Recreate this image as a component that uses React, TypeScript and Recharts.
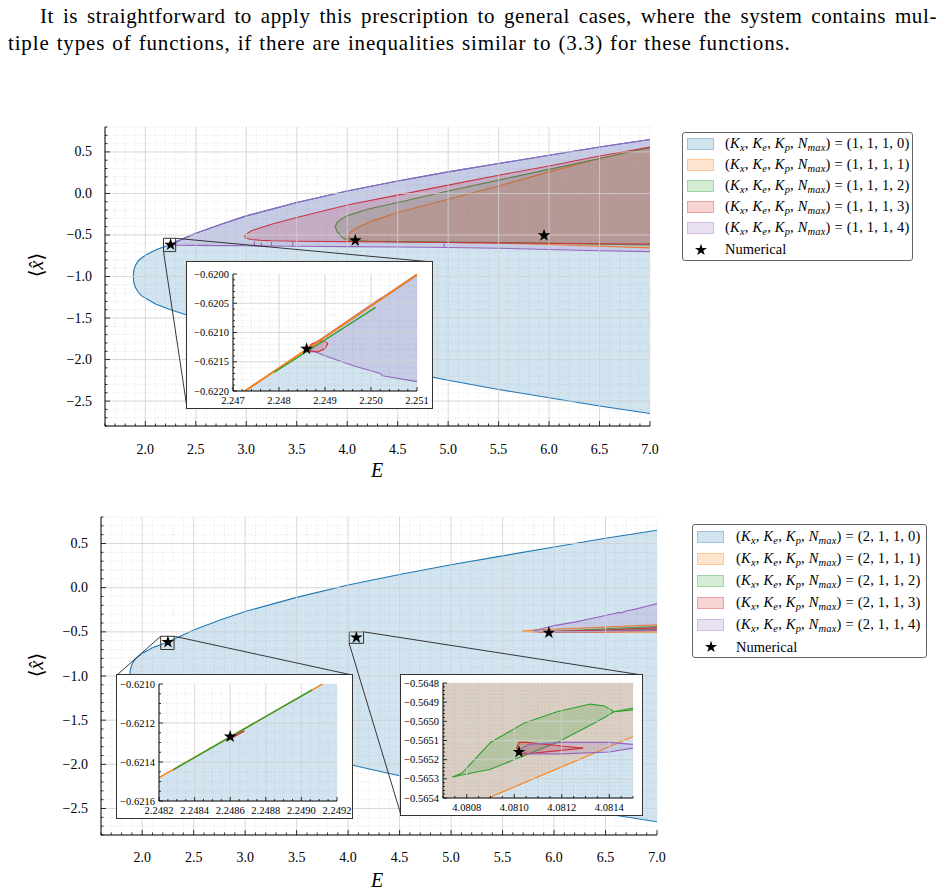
import React from "react";
import {
  ComposedChart,
  Area,
  Line,
  Scatter,
  XAxis,
  YAxis,
  CartesianGrid,
  ReferenceArea,
  ReferenceLine,
  Symbols,
} from "recharts";

const FONT = "'Liberation Serif', 'DejaVu Serif', serif";
const BLUE = "#1f77b4";
const ORANGE = "#ff7f0e";
const GREEN = "#2ca02c";
const RED = "#d62728";
const PURPLE = "#9467bd";
const SERIES_COLORS = [BLUE, ORANGE, GREEN, RED, PURPLE];

// ---------------- values ----------------
// legend tuples
const NMAX = [0, 1, 2, 3, 4];
const KX_TOP = 1;
const KX_BOTTOM = 2;

// N_max = 0 envelope (same in both panels)
const envE = [1.88, 1.885, 1.9, 1.93, 1.96, 2.0, 2.1, 2.25, 2.5, 2.75, 3.0, 3.5, 4.0, 4.5, 5.0, 5.5, 6.0, 6.5, 7.0];
const envHi = [-1.0, -0.93, -0.87, -0.81, -0.78, -0.745, -0.68, -0.615, -0.48, -0.37, -0.27, -0.11, 0.03, 0.15, 0.26, 0.36, 0.46, 0.56, 0.65];
const envLo = [-1.0, -1.07, -1.13, -1.19, -1.23, -1.26, -1.33, -1.4, -1.5, -1.6, -1.69, -1.86, -2.0, -2.13, -2.25, -2.36, -2.46, -2.56, -2.65];

// top panel, K_x = 1
const t1E = [4.0, 4.03, 4.1, 4.25, 4.5, 5.0, 5.5, 6.0, 6.5, 7.0];
const t1Hi = [-0.54, -0.47, -0.41, -0.33, -0.23, -0.07, 0.09, 0.26, 0.42, 0.56];
const t1Lo = [-0.54, -0.565, -0.57, -0.575, -0.58, -0.59, -0.6, -0.615, -0.635, -0.655];

const t2E = [3.88, 3.9, 3.95, 4.0, 4.2, 4.5, 5.0, 5.5, 6.0, 6.5, 7.0];
const t2Hi = [-0.4, -0.35, -0.3, -0.27, -0.19, -0.11, 0.03, 0.16, 0.29, 0.42, 0.55];
const t2Lo = [-0.4, -0.46, -0.53, -0.56, -0.575, -0.58, -0.585, -0.59, -0.6, -0.61, -0.62];

const t3E = [2.98, 3.0, 3.05, 3.15, 3.25, 3.5, 4.0, 4.5, 5.0, 5.5, 6.0, 6.5, 7.0];
const t3Hi = [-0.516, -0.49, -0.45, -0.41, -0.37, -0.29, -0.14, -0.02, 0.1, 0.22, 0.33, 0.45, 0.56];
const t3Lo = [-0.516, -0.54, -0.555, -0.565, -0.57, -0.575, -0.58, -0.585, -0.59, -0.595, -0.6, -0.605, -0.61];

const t4E = [2.25, 2.3, 2.5, 2.75, 3.0, 3.5, 4.0, 4.5, 5.0, 5.5, 6.0, 6.5, 7.0];
const t4Hi = [-0.617, -0.58, -0.48, -0.37, -0.27, -0.11, 0.03, 0.15, 0.26, 0.36, 0.46, 0.56, 0.65];
const t4Lo = [-0.617, -0.622, -0.625, -0.628, -0.63, -0.635, -0.64, -0.645, -0.65, -0.66, -0.675, -0.69, -0.7];

const t4SpikeE = [3.08, 3.15, 3.25, 3.46, 4.1, 4.96];
const t4SpikeBase = [-0.63, -0.631, -0.632, -0.636, -0.641, -0.65];
const t4SpikeTop = [-0.58, -0.59, -0.585, -0.585, -0.6, -0.6];

const starE = [2.25, 4.08, 5.95];
const starTopY = [-0.617, -0.565, -0.505];
const starBottomY = [-0.617, -0.565, -0.51];

// bottom panel, K_x = 2
const b1E = [5.69, 5.8, 6.0, 6.5, 7.0];
const b1Hi = [-0.495, -0.48, -0.47, -0.445, -0.42];
const b1Lo = [-0.495, -0.502, -0.503, -0.505, -0.505];

const b2E = [5.95, 6.5, 7.0];
const b2Hi = [-0.5, -0.465, -0.44];
const b2Lo = [-0.5, -0.485, -0.475];

const b3E = [5.85, 6.5, 7.0];
const b3Hi = [-0.5, -0.48, -0.455];
const b3Lo = [-0.5, -0.5, -0.49];

const b4E = [5.79, 5.9, 6.0, 6.2, 6.4, 6.55, 6.6, 6.62, 6.65, 6.7, 6.8, 6.9, 7.0];
const b4Hi = [-0.495, -0.46, -0.43, -0.39, -0.34, -0.3, -0.29, -0.28, -0.285, -0.265, -0.24, -0.21, -0.18];
const b4Lo = [-0.495, -0.5, -0.5, -0.5, -0.495, -0.49, -0.49, -0.49, -0.488, -0.487, -0.485, -0.48, -0.478];

// inset of top panel around E = 2.2486
const i1EnvE = [2.247, 2.251];
const i1EnvHi = [-0.62214, -0.62002];
const i1EnvLo = [-0.623, -0.623];
const i1OrangeE = [2.2472, 2.2511];
const i1OrangeY = [-0.62203, -0.61996];
const i1GreenE = [2.2479, 2.2486, 2.2501];
const i1GreenY = [-0.62168, -0.62133, -0.62057];
const i1RedE = [2.24862, 2.2487, 2.24885, 2.249, 2.24906];
const i1RedHi = [-0.62128, -0.6212, -0.62115, -0.62115, -0.62119];
const i1RedLo = [-0.62128, -0.62133, -0.62133, -0.62128, -0.62119];
const i1PurpleE = [2.24862, 2.24904, 2.24962, 2.2502, 2.25025, 2.251];
const i1PurpleHi = [-0.62127, -0.62104, -0.62073, -0.62042, -0.6204, -0.62];
const i1PurpleLo = [-0.62128, -0.62141, -0.62157, -0.6217, -0.62174, -0.62184];
const i1StarE = [2.2486];
const i1StarY = [-0.62128];

// inset A of bottom panel around E = 2.2486
const iaEnvE = [2.2482, 2.2492];
const iaEnvHi = [-0.62148, -0.62095];
const iaEnvLo = [-0.622, -0.622];
const iaOrangeE = [2.2482, 2.24912];
const iaOrangeY = [-0.62148, -0.621];
const iaGreenE = [2.24828, 2.24906];
const iaGreenY = [-0.62144, -0.62103];
const iaRedE = [2.24858, 2.24868];
const iaRedY = [-0.62129, -0.62124];
const iaStarE = [2.2486];
const iaStarY = [-0.62127];

// inset B of bottom panel around E = 4.0810
const ibEnvE = [4.0807, 4.0815];
const ibEnvHi = [-0.564, -0.564];
const ibEnvLo = [-0.566, -0.566];
const ibOrangeE = [4.0807, 4.0815];
const ibOrangeHi = [-0.564, -0.564];
const ibOrangeLo = [-0.5655, -0.56508];
const ibGreenE = [4.08074, 4.08078, 4.0809, 4.08104, 4.08118, 4.08132, 4.08138, 4.08142, 4.0815];
const ibGreenHi = [-0.56529, -0.56527, -0.56511, -0.56501, -0.56495, -0.56491, -0.56492, -0.56495, -0.56493];
const ibGreenLo = [-0.56529, -0.56528, -0.56525, -0.56518, -0.56511, -0.56502, -0.56498, -0.56495, -0.56494];
const ibRedE = [4.08101, 4.08102, 4.08105, 4.08121, 4.08129];
const ibRedHi = [-0.56514, -0.56511, -0.56511, -0.56513, -0.56514];
const ibRedLo = [-0.56514, -0.56517, -0.56517, -0.56515, -0.56514];
const ibPurpleE = [4.08102, 4.08106, 4.0812, 4.0814, 4.0815];
const ibPurpleHi = [-0.56515, -0.56512, -0.56511, -0.56511, -0.56512];
const ibPurpleLo = [-0.56515, -0.56517, -0.56517, -0.56516, -0.56514];
const ibStarE = [4.08102];
const ibStarY = [-0.56516];

// tick labels
const mainXMajors = [2.0, 2.5, 3.0, 3.5, 4.0, 4.5, 5.0, 5.5, 6.0, 6.5, 7.0];
const mainYMajors = [-2.5, -2.0, -1.5, -1.0, -0.5, 0.0, 0.5];
const i1XMajors = [2.247, 2.248, 2.249, 2.25, 2.251];
const i1YMajors = [-0.622, -0.6215, -0.621, -0.6205, -0.62];
const iaXMajors = [2.2482, 2.2484, 2.2486, 2.2488, 2.249, 2.2492];
const iaYMajors = [-0.6216, -0.6214, -0.6212, -0.621];
const ibXMajors = [4.0808, 4.081, 4.0812, 4.0814];
const ibYMajors = [-0.5654, -0.5653, -0.5652, -0.5651, -0.565, -0.5649, -0.5648];

// ---------------- helpers ----------------
type Band = { E: number; r: [number, number] };
type Pt = { E: number; y: number | null };
type AxisSpec = { domain: [number, number]; majors: number[]; minorStep: number; digits: number };

const band = (E: number[], lo: number[], hi: number[]): Band[] =>
  E.map((e, i) => ({ E: e, r: [lo[i], hi[i]] }));
const pts = (E: number[], y: number[]): Pt[] => E.map((e, i) => ({ E: e, y: y[i] }));
const spikes = (E: number[], base: number[], top: number[]): Pt[] =>
  E.flatMap((e, i) => [
    { E: e, y: base[i] },
    { E: e, y: top[i] },
    { E: e, y: null },
  ]);

const isMajor = (ax: AxisSpec, v: number) => ax.majors.some((m) => Math.abs(m - v) < ax.minorStep * 0.01);
function allTicks(ax: AxisSpec) {
  const out = [...ax.majors];
  const n0 = Math.ceil(ax.domain[0] / ax.minorStep - 1e-6);
  const n1 = Math.floor(ax.domain[1] / ax.minorStep + 1e-6);
  for (let i = n0; i <= n1; i++) {
    const v = i * ax.minorStep;
    if (!isMajor(ax, v)) out.push(v);
  }
  return out.sort((a, b) => a - b);
}
const fmt = (v: number, d: number) => v.toFixed(d).replace("-", "\u2212");

function hexA(hex: string, a: number) {
  const n = parseInt(hex.slice(1), 16);
  return `rgba(${(n >> 16) & 255}, ${(n >> 8) & 255}, ${n & 255}, ${a})`;
}

function tickRenderer(side: string, ax: AxisSpec, fs: number, gap: number, len: number) {
  return (p: any) => {
    const x = p.x;
    const y = p.y;
    const v = p.payload.value;
    const major = isMajor(ax, v);
    const l = major ? len : len * 0.5;
    const st = { fontFamily: FONT, fontSize: fs, fill: "#000" };
    const ln = { stroke: "#000", strokeWidth: 0.8 };
    if (side === "bottom")
      return (
        <g>
          <line x1={x} x2={x} y1={y} y2={y - l} {...ln} />
          {major && (
            <text x={x} y={y + gap} textAnchor="middle" dominantBaseline="central" style={st}>
              {fmt(v, ax.digits)}
            </text>
          )}
        </g>
      );
    if (side === "top") return <line x1={x} x2={x} y1={y} y2={y + l} {...ln} />;
    if (side === "left")
      return (
        <g>
          <line x1={x} x2={x + l} y1={y} y2={y} {...ln} />
          {major && (
            <text x={x - gap} y={y} textAnchor="end" dominantBaseline="central" style={st}>
              {fmt(v, ax.digits)}
            </text>
          )}
        </g>
      );
    return <line x1={x} x2={x - l} y1={y} y2={y} {...ln} />;
  };
}

type Margin = { top: number; right: number; bottom: number; left: number };
type BandSpec = { data: Band[]; color: string; stroke?: boolean; width?: number };
type LineSpec = { data: Pt[]; color: string; width: number };
type Seg = [{ x: number; y: number }, { x: number; y: number }];
type Box = { x1: number; x2: number; y1: number; y2: number };
type PlotProps = {
  w: number;
  h: number;
  margin: Margin;
  yW: number;
  xH: number;
  X: AxisSpec;
  Y: AxisSpec;
  fs: number;
  xGap: number;
  yGap: number;
  tickLen: number;
  bands: BandSpec[];
  lines: LineSpec[];
  stars: Pt[];
  starSize: number;
  boxes?: Box[];
  links?: Seg[];
};

function Plot(props: PlotProps) {
  const { w, h, margin, yW, xH, X, Y, fs, xGap, yGap, tickLen, bands, lines, stars, starSize } = props;
  const boxes = props.boxes || [];
  const links = props.links || [];
  const xTicks = allTicks(X);
  const yTicks = allTicks(Y);
  const axisLine = { stroke: "#000", strokeWidth: 1 };
  const inner = (ax: AxisSpec) => ax.majors.filter((v) => v > ax.domain[0] && v < ax.domain[1]);
  return (
    <ComposedChart width={w} height={h} margin={margin}>
      <CartesianGrid stroke="#e2e2e2" strokeDasharray="1.5 2" strokeWidth={0.7} />
      {inner(X).map((v) => (
        <ReferenceLine key={"gx" + v} x={v} stroke="#d3d3d3" strokeWidth={0.8} />
      ))}
      {inner(Y).map((v) => (
        <ReferenceLine key={"gy" + v} y={v} stroke="#d3d3d3" strokeWidth={0.8} />
      ))}
      <XAxis
        dataKey="E"
        type="number"
        domain={X.domain}
        allowDataOverflow
        ticks={xTicks}
        interval={0}
        height={xH}
        tickSize={0}
        tickMargin={0}
        tickLine={false}
        axisLine={axisLine}
        tick={tickRenderer("bottom", X, fs, xGap, tickLen)}
      />
      <XAxis
        xAxisId="top"
        orientation="top"
        type="number"
        domain={X.domain}
        allowDataOverflow
        ticks={xTicks}
        interval={0}
        height={0}
        tickSize={0}
        tickMargin={0}
        tickLine={false}
        axisLine={axisLine}
        tick={tickRenderer("top", X, fs, xGap, tickLen)}
      />
      <YAxis
        type="number"
        domain={Y.domain}
        allowDataOverflow
        ticks={yTicks}
        interval={0}
        width={yW}
        tickSize={0}
        tickMargin={0}
        tickLine={false}
        axisLine={axisLine}
        tick={tickRenderer("left", Y, fs, yGap, tickLen)}
      />
      <YAxis
        yAxisId="right"
        orientation="right"
        type="number"
        domain={Y.domain}
        allowDataOverflow
        ticks={yTicks}
        interval={0}
        width={0}
        tickSize={0}
        tickMargin={0}
        tickLine={false}
        axisLine={axisLine}
        tick={tickRenderer("right", Y, fs, yGap, tickLen)}
      />
      {bands.map((b, i) => (
        <Area
          key={"band" + i}
          data={b.data}
          dataKey="r"
          type="linear"
          stroke={b.stroke === false ? "none" : b.color}
          strokeWidth={b.width || 1.1}
          fill={b.color}
          fillOpacity={0.2}
          dot={false}
          activeDot={false}
          isAnimationActive={false}
        />
      ))}
      {lines.map((l, i) => (
        <Line
          key={"line" + i}
          data={l.data}
          dataKey="y"
          type="linear"
          stroke={l.color}
          strokeWidth={l.width}
          dot={false}
          activeDot={false}
          connectNulls={false}
          isAnimationActive={false}
        />
      ))}
      {boxes.map((b, i) => (
        <ReferenceArea key={"box" + i} {...b} fill="none" stroke="#333" strokeWidth={1} ifOverflow="visible" />
      ))}
      {links.map((s, i) => (
        <ReferenceLine key={"link" + i} segment={s} stroke="#222" strokeWidth={0.9} ifOverflow="visible" />
      ))}
      <Scatter
        data={stars}
        dataKey="y"
        isAnimationActive={false}
        shape={(p: any) => <Symbols cx={p.cx} cy={p.cy} type="star" size={starSize} fill="#000" />}
      />
    </ComposedChart>
  );
}

// ---------------- layout ----------------
const MAIN_X: AxisSpec = { domain: [1.6, 7.0], majors: mainXMajors, minorStep: 0.1, digits: 1 };
const MAIN_Y: AxisSpec = { domain: [-2.8, 0.8], majors: mainYMajors, minorStep: 0.1, digits: 1 };
const I1_X: AxisSpec = { domain: [2.247, 2.251], majors: i1XMajors, minorStep: 0.0002, digits: 3 };
const I1_Y: AxisSpec = { domain: [-0.622, -0.62], majors: i1YMajors, minorStep: 0.0001, digits: 4 };
const IA_X: AxisSpec = { domain: [2.2482, 2.2492], majors: iaXMajors, minorStep: 0.00005, digits: 4 };
const IA_Y: AxisSpec = { domain: [-0.6216, -0.621], majors: iaYMajors, minorStep: 0.00005, digits: 4 };
const IB_X: AxisSpec = { domain: [4.0807, 4.0815], majors: ibXMajors, minorStep: 0.00005, digits: 4 };
const IB_Y: AxisSpec = { domain: [-0.5654, -0.5648], majors: ibYMajors, minorStep: 0.00002, digits: 4 };

type Frame = { left: number; top: number; w: number; h: number; margin: Margin; yW: number; xH: number };
const TOP_F: Frame = { left: 0, top: 100, w: 670, h: 360, margin: { top: 27, right: 20, bottom: 10, left: 5 }, yW: 100, xH: 24 };
const BOT_F: Frame = { left: 0, top: 490, w: 680, h: 380, margin: { top: 27, right: 23, bottom: 11, left: 5 }, yW: 96, xH: 24 };

const INSET_TOP: Frame = { left: 187, top: 262, w: 245, h: 146, margin: { top: 12, right: 15, bottom: 0, left: 0 }, yW: 46, xH: 17 };
const INSET_A: Frame = { left: 117, top: 675, w: 235, h: 143, margin: { top: 9, right: 15, bottom: 0, left: 0 }, yW: 42, xH: 17 };
const INSET_B: Frame = { left: 401, top: 675, w: 241, h: 140, margin: { top: 8, right: 9, bottom: 0, left: 0 }, yW: 42, xH: 17 };

// page pixel -> data coordinates of a main panel (for the zoom connectors)
function toData(f: Frame, X: AxisSpec, Y: AxisSpec, px: number, py: number) {
  const l = f.left + f.margin.left + f.yW;
  const r = f.left + f.w - f.margin.right;
  const t = f.top + f.margin.top;
  const b = f.top + f.h - f.margin.bottom - f.xH;
  return {
    x: X.domain[0] + ((px - l) / (r - l)) * (X.domain[1] - X.domain[0]),
    y: Y.domain[1] - ((py - t) / (b - t)) * (Y.domain[1] - Y.domain[0]),
  };
}

const ZOOM_TOP: Box = { x1: 2.18, x2: 2.3, y1: -0.7, y2: -0.54 };
const ZOOM_A: Box = { x1: 2.18, x2: 2.31, y1: -0.7, y2: -0.55 };
const ZOOM_B: Box = { x1: 4.01, x2: 4.15, y1: -0.63, y2: -0.5 };

const topLinks: Seg[] = [
  [{ x: ZOOM_TOP.x2, y: ZOOM_TOP.y2 }, toData(TOP_F, MAIN_X, MAIN_Y, INSET_TOP.left + INSET_TOP.w, INSET_TOP.top)],
  [{ x: ZOOM_TOP.x1, y: ZOOM_TOP.y1 }, toData(TOP_F, MAIN_X, MAIN_Y, INSET_TOP.left, INSET_TOP.top + INSET_TOP.h)],
];
const botLinks: Seg[] = [
  [{ x: ZOOM_A.x1, y: ZOOM_A.y2 }, toData(BOT_F, MAIN_X, MAIN_Y, INSET_A.left, INSET_A.top)],
  [{ x: ZOOM_A.x2, y: ZOOM_A.y2 }, toData(BOT_F, MAIN_X, MAIN_Y, INSET_A.left + INSET_A.w, INSET_A.top)],
  [{ x: ZOOM_B.x1, y: ZOOM_B.y1 }, toData(BOT_F, MAIN_X, MAIN_Y, INSET_B.left, INSET_B.top + INSET_B.h)],
  [{ x: ZOOM_B.x2, y: ZOOM_B.y2 }, toData(BOT_F, MAIN_X, MAIN_Y, INSET_B.left + INSET_B.w, INSET_B.top)],
];

const envBand = band(envE, envLo, envHi);

// ---------------- pieces ----------------
function LegendLabel({ kx, n }: { kx: number; n: number }) {
  const sub = { fontSize: "0.72em", verticalAlign: "-0.28em", fontStyle: "italic" as const };
  return (
    <span>
      (<i>K</i>
      <span style={sub}>x</span>, <i>K</i>
      <span style={sub}>e</span>, <i>K</i>
      <span style={sub}>p</span>, <i>N</i>
      <span style={sub}>max</span>) = ({kx}, 1, 1, {n})
    </span>
  );
}

function LegendBox(props: { left: number; top: number; w: number; h: number; rowH: number; padTop: number; patchLeft: number; textLeft: number; kx: number }) {
  const { left, top, w, h, rowH, padTop, patchLeft, textLeft, kx } = props;
  const row = (i: number): React.CSSProperties => ({
    position: "absolute",
    left: 0,
    top: padTop + i * rowH,
    height: rowH,
    width: "100%",
    display: "flex",
    alignItems: "center",
  });
  return (
    <div
      style={{
        position: "absolute",
        left,
        top,
        width: w,
        height: h,
        border: "1px solid #666",
        borderRadius: 3,
        background: "#fff",
        boxSizing: "border-box",
        fontFamily: FONT,
        fontSize: 14.5,
      }}
    >
      {NMAX.map((n, i) => (
        <div key={n} style={row(i)}>
          <span
            style={{
              position: "absolute",
              left: patchLeft,
              width: 27,
              height: 12,
              background: hexA(SERIES_COLORS[i], 0.2),
              border: `1px solid ${hexA(SERIES_COLORS[i], 0.3)}`,
              boxSizing: "border-box",
            }}
          />
          <span style={{ position: "absolute", left: textLeft, whiteSpace: "nowrap", letterSpacing: 0.2 }}>
            <LegendLabel kx={kx} n={n} />
          </span>
        </div>
      ))}
      <div style={row(5)}>
        <svg style={{ position: "absolute", left: patchLeft + 6 }} width={16} height={16}>
          <Symbols cx={8} cy={8} type="star" size={45} fill="#000" />
        </svg>
        <span style={{ position: "absolute", left: textLeft }}>Numerical</span>
      </div>
    </div>
  );
}

function Inset({ f, X, Y, bands, lines, stars, gx, gy }: { f: Frame; X: AxisSpec; Y: AxisSpec; bands: BandSpec[]; lines: LineSpec[]; stars: Pt[]; gx: number; gy: number }) {
  return (
    <div
      style={{
        position: "absolute",
        left: f.left,
        top: f.top,
        width: f.w,
        height: f.h,
        background: "#fff",
        outline: "1px solid #333",
        zIndex: 2,
      }}
    >
      <Plot
        w={f.w}
        h={f.h}
        margin={f.margin}
        yW={f.yW}
        xH={f.xH}
        X={X}
        Y={Y}
        fs={10.5}
        xGap={gx}
        yGap={gy}
        tickLen={4}
        bands={bands}
        lines={lines}
        stars={stars}
        starSize={50}
      />
    </div>
  );
}

function AxisLabelY({ x, y }: { x: number; y: number }) {
  return (
    <div
      style={{
        position: "absolute",
        left: x,
        top: y,
        transform: "translate(-50%, -50%) rotate(-90deg)",
        fontFamily: FONT,
        fontSize: 20,
        whiteSpace: "nowrap",
      }}
    >
      {"\u27E8"}
      <i>{"x\u0302"}</i>
      {"\u27E9"}
    </div>
  );
}

function AxisLabelX({ x, y }: { x: number; y: number }) {
  return (
    <div
      style={{
        position: "absolute",
        left: x,
        top: y,
        transform: "translate(-50%, -50%)",
        fontFamily: FONT,
        fontSize: 20,
        fontStyle: "italic",
      }}
    >
      E
    </div>
  );
}

export default function App() {
  const topBands: BandSpec[] = [
    { data: envBand, color: BLUE },
    { data: band(t1E, t1Lo, t1Hi), color: ORANGE },
    { data: band(t2E, t2Lo, t2Hi), color: GREEN },
    { data: band(t3E, t3Lo, t3Hi), color: RED },
    { data: band(t4E, t4Lo, t4Hi), color: PURPLE },
  ];
  const botBands: BandSpec[] = [
    { data: envBand, color: BLUE },
    { data: band(b1E, b1Lo, b1Hi), color: ORANGE },
    { data: band(b2E, b2Lo, b2Hi), color: GREEN },
    { data: band(b3E, b3Lo, b3Hi), color: RED },
    { data: band(b4E, b4Lo, b4Hi), color: PURPLE },
  ];
  const para = { fontSize: 21, lineHeight: "27px", letterSpacing: 0.85, wordSpacing: 1, whiteSpace: "nowrap" as const };
  return (
    <div style={{ position: "absolute", left: 0, top: 0, width: 946, height: 894, background: "#fff", fontFamily: FONT }}>
      <div
        style={{
          ...para,
          position: "absolute",
          left: 8,
          top: 3,
          width: 929,
          textIndent: 32,
          textAlign: "justify",
          textAlignLast: "justify",
          letterSpacing: 0.6,
        }}
      >
        It is straightforward to apply this prescription to general cases, where the system contains mul-
      </div>
      <div style={{ ...para, position: "absolute", left: 8, top: 30 }}>
        tiple types of functions, if there are inequalities similar to (3.3) for these functions.
      </div>

      <div style={{ position: "absolute", left: TOP_F.left, top: TOP_F.top }}>
        <Plot
          w={TOP_F.w}
          h={TOP_F.h}
          margin={TOP_F.margin}
          yW={TOP_F.yW}
          xH={TOP_F.xH}
          X={MAIN_X}
          Y={MAIN_Y}
          fs={14}
          xGap={23}
          yGap={13}
          tickLen={5}
          bands={topBands}
          lines={[{ data: spikes(t4SpikeE, t4SpikeBase, t4SpikeTop), color: PURPLE, width: 1.1 }]}
          stars={pts(starE, starTopY)}
          starSize={50}
          boxes={[ZOOM_TOP]}
          links={topLinks}
        />
      </div>
      <Inset
        f={INSET_TOP}
        X={I1_X}
        Y={I1_Y}
        gx={9}
        gy={4}
        bands={[
          { data: band(i1EnvE, i1EnvLo, i1EnvHi), color: BLUE },
          { data: band(i1PurpleE, i1PurpleLo, i1PurpleHi), color: PURPLE },
          { data: band(i1RedE, i1RedLo, i1RedHi), color: RED },
        ]}
        lines={[
          { data: pts(i1OrangeE, i1OrangeY), color: ORANGE, width: 1.8 },
          { data: pts(i1GreenE, i1GreenY), color: GREEN, width: 1.3 },
        ]}
        stars={pts(i1StarE, i1StarY)}
      />
      <AxisLabelY x={36} y={265} />
      <AxisLabelX x={377} y={470} />
      <LegendBox left={682} top={132} w={231} h={129} rowH={21.2} padTop={0} patchLeft={4} textLeft={42} kx={KX_TOP} />

      <div style={{ position: "absolute", left: BOT_F.left, top: BOT_F.top }}>
        <Plot
          w={BOT_F.w}
          h={BOT_F.h}
          margin={BOT_F.margin}
          yW={BOT_F.yW}
          xH={BOT_F.xH}
          X={MAIN_X}
          Y={MAIN_Y}
          fs={14}
          xGap={22}
          yGap={13}
          tickLen={5}
          bands={botBands}
          lines={[]}
          stars={pts(starE, starBottomY)}
          starSize={50}
          boxes={[ZOOM_A, ZOOM_B]}
          links={botLinks}
        />
      </div>
      <Inset
        f={INSET_A}
        X={IA_X}
        Y={IA_Y}
        gx={9}
        gy={4}
        bands={[{ data: band(iaEnvE, iaEnvLo, iaEnvHi), color: BLUE, stroke: false }]}
        lines={[
          { data: pts(iaOrangeE, iaOrangeY), color: ORANGE, width: 1.4 },
          { data: pts(iaGreenE, iaGreenY), color: GREEN, width: 1.4 },
          { data: pts(iaRedE, iaRedY), color: RED, width: 1.4 },
        ]}
        stars={pts(iaStarE, iaStarY)}
      />
      <Inset
        f={INSET_B}
        X={IB_X}
        Y={IB_Y}
        gx={9}
        gy={4}
        bands={[
          { data: band(ibEnvE, ibEnvLo, ibEnvHi), color: BLUE, stroke: false },
          { data: band(ibOrangeE, ibOrangeLo, ibOrangeHi), color: ORANGE },
          { data: band(ibGreenE, ibGreenLo, ibGreenHi), color: GREEN },
          { data: band(ibRedE, ibRedLo, ibRedHi), color: RED },
          { data: band(ibPurpleE, ibPurpleLo, ibPurpleHi), color: PURPLE },
        ]}
        lines={[]}
        stars={pts(ibStarE, ibStarY)}
      />
      <AxisLabelY x={36} y={665} />
      <AxisLabelX x={377} y={880} />
      <LegendBox left={692} top={524} w={235} h={134} rowH={22} padTop={1} patchLeft={4} textLeft={43} kx={KX_BOTTOM} />
    </div>
  );
}
